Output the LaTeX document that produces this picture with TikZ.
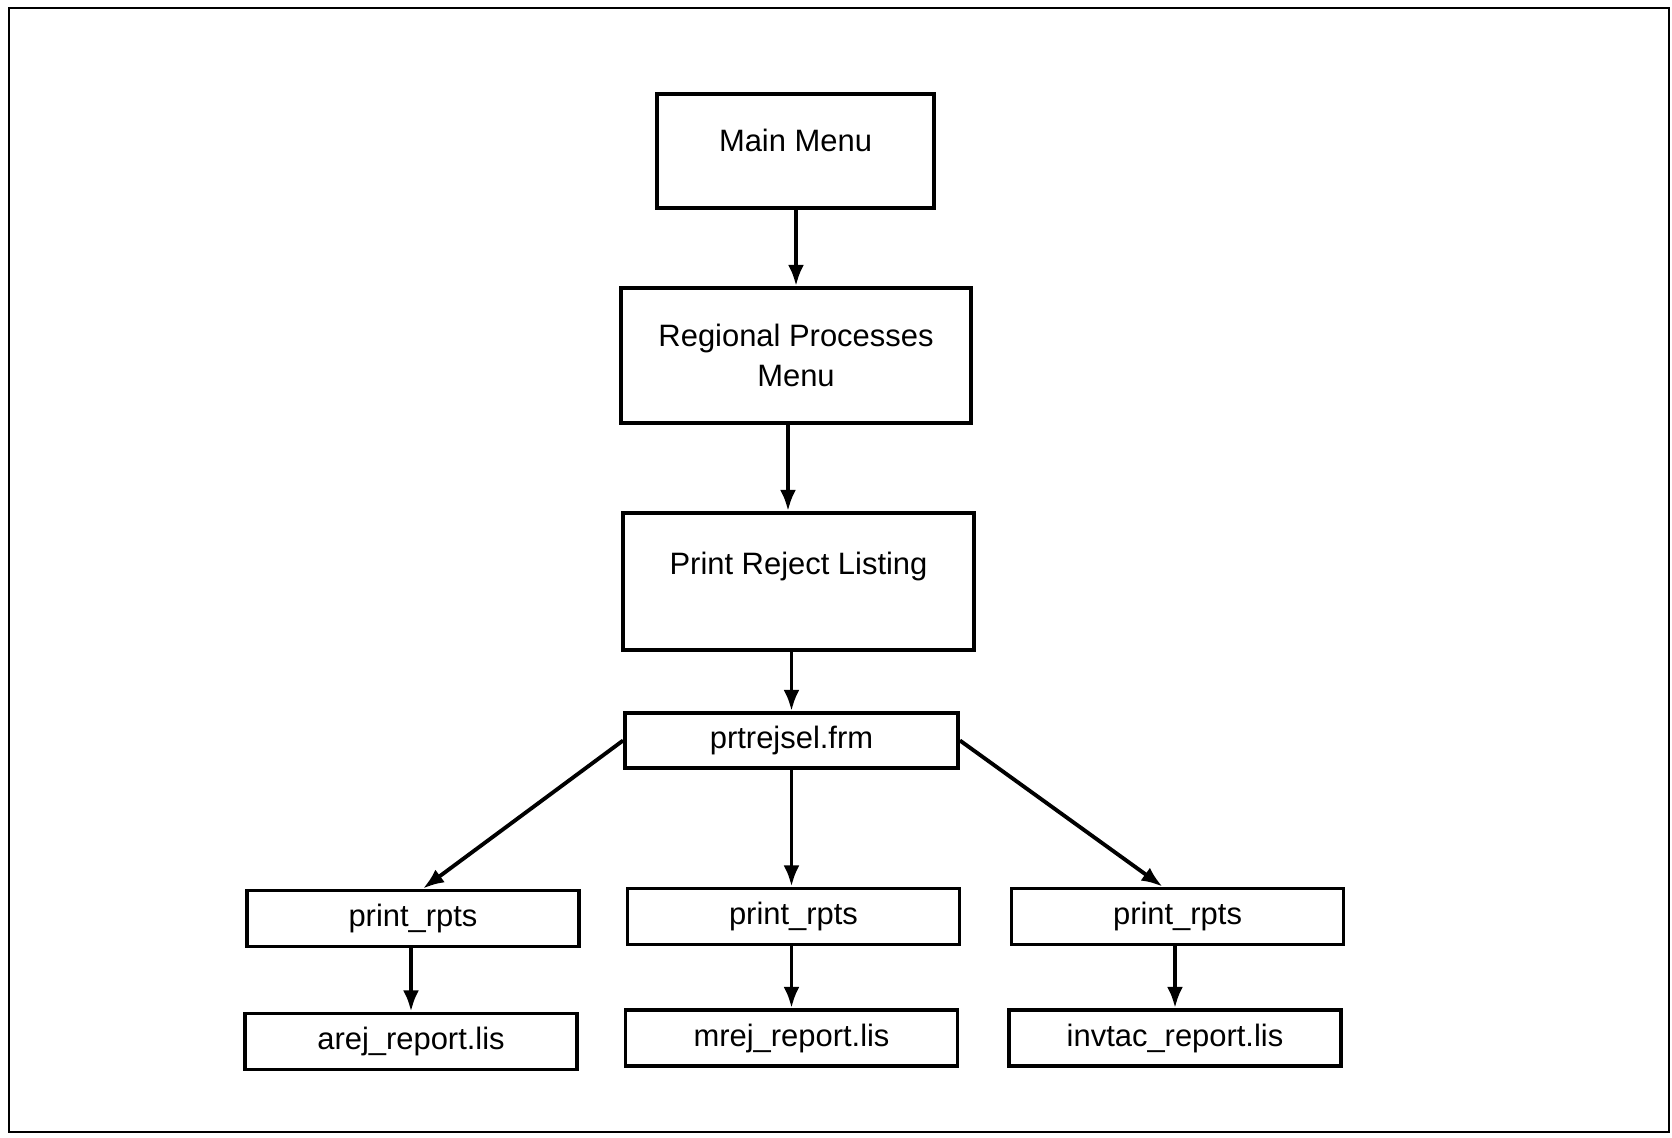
\documentclass[tikz,border=0pt]{standalone}
\usepackage{fontspec}
\setmainfont{Liberation Sans}
\usetikzlibrary{arrows.meta}

\begin{document}
\begin{tikzpicture}[
    box/.style={draw, line width=1.1pt, inner sep=0pt, align=center,
      font=\fontsize{8.8}{11.2}\selectfont},
    smallbox/.style={box, minimum width=3.32cm, minimum height=0.56cm},
    link/.style={line width=1.1pt, -{Latex[length=6pt,width=4.5pt]}}
  ]
      % Fix the page size and draw the outer frame
      \useasboundingbox (0,0) rectangle (16.72,11.37);
      \draw[line width=0.8pt] (0.09,0.05) rectangle (16.69,11.29);

      % Menu boxes down the middle
      \node[box, minimum width=2.77cm, minimum height=1.14cm, text height=0.22cm, text depth=0.2cm] (main) at (7.955,9.86) {Main Menu};
      \node[box, minimum width=3.50cm, minimum height=1.35cm] (regional) at (7.96,7.815) {Regional Processes\\Menu};
      \node[box, minimum width=3.51cm, minimum height=1.37cm, text height=0.2cm, text depth=0.35cm] (reject) at (7.985,5.555) {Print Reject Listing};
      \node[box, minimum width=3.33cm, minimum height=0.55cm] (prtsel) at (7.915,3.965) {prtrejsel.frm};

      % Report programs and their output files
      \node[smallbox] (rptsa) at (4.13,2.185) {print\_rpts};
      \node[smallbox] (rptsm) at (7.935,2.205) {print\_rpts};
      \node[smallbox] (rptsi) at (11.775,2.205) {print\_rpts};

      \node[smallbox] (arej) at (4.11,0.955) {arej\_report.lis};
      \node[smallbox] (mrej) at (7.915,0.99) {mrej\_report.lis};
      \node[smallbox] (invtac) at (11.75,0.99) {invtac\_report.lis};

      % Arrows
      \draw[link] (main.south -| regional) -- (regional);
      \draw[link] ([xshift=-0.08cm]regional.south) -- ([xshift=-0.08cm]regional.south |- reject.north);
      \draw[link] (reject.south -| prtsel) -- (prtsel);
      \draw[link] (prtsel.west) -- ([xshift=0.1cm]rptsa.north);
      \draw[link] (prtsel.south) -- (prtsel.south |- rptsm.north);
      \draw[link] (prtsel.east) -- ([xshift=-0.15cm]rptsi.north);

      \draw[link] (rptsa.south -| arej) -- (arej);
      \draw[link] (rptsm.south -| mrej) -- (mrej);
      \draw[link] (rptsi.south -| invtac) -- (invtac);
    \end{tikzpicture}
\end{document}
